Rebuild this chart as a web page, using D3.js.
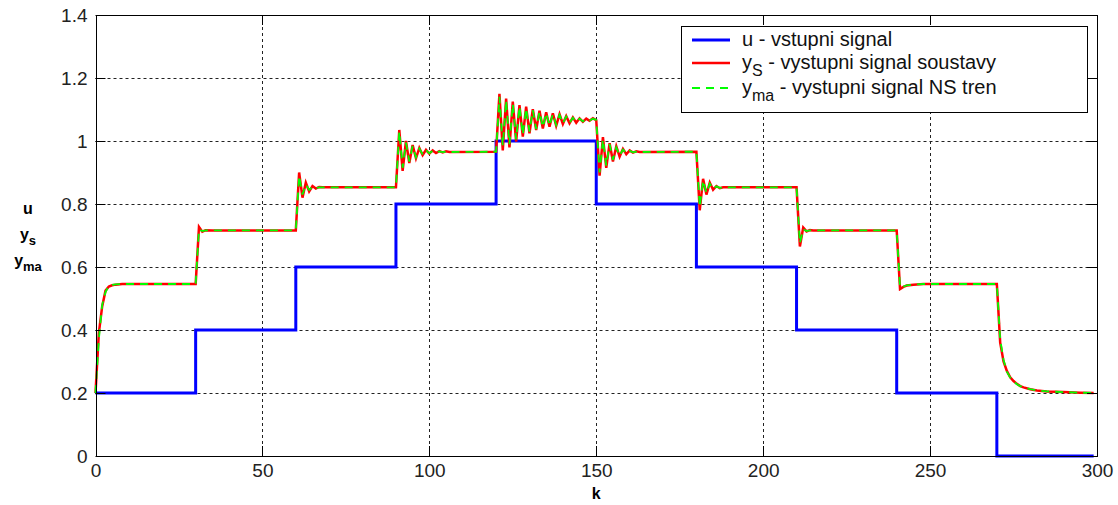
<!DOCTYPE html>
<html>
<head>
<meta charset="utf-8">
<script src="https://cdn.jsdelivr.net/npm/d3@7"></script>
<style>
  body { margin: 0; background: #fff; }
  text { font-family: "Liberation Sans", Arial, sans-serif; }
</style>
</head>
<body>
<script>
// input signal u: value held from each k until the next
const uSteps = [[0, 0.2], [30, 0.4], [60, 0.6], [90, 0.8], [120, 1.0], [150, 0.8], [180, 0.6], [210, 0.4], [240, 0.2], [270, 0], [299, 0]]

// plant output ys (k, value)
const ysPoints = [
  [0, 0.2], [1, 0.39], [2, 0.475], [3, 0.525], [4, 0.538], [5, 0.542], [6, 0.544], [8, 0.546], [30, 0.546],
  [31, 0.727], [32, 0.712], [33, 0.717], [35, 0.716], [60, 0.716],
  [61, 0.90], [62, 0.82], [63, 0.868], [64, 0.84], [65, 0.857], [66, 0.849], [67, 0.854], [68, 0.853], [90, 0.853],
  [91, 1.035], [92, 0.905], [93, 1.0], [94, 0.93], [95, 0.987], [96, 0.945], [97, 0.978], [98, 0.955], [99, 0.972],
  [100, 0.96], [101, 0.97], [102, 0.962], [103, 0.968], [104, 0.964], [105, 0.967], [106, 0.965], [120, 0.966],
  [121, 1.15], [122, 0.97], [123, 1.135], [124, 0.98], [125, 1.125], [126, 0.998], [127, 1.114], [128, 1.014],
  [129, 1.109], [130, 1.024], [131, 1.101], [132, 1.035], [133, 1.096], [134, 1.04], [135, 1.091], [136, 1.045],
  [137, 1.088], [138, 1.048], [139, 1.085], [140, 1.054], [141, 1.079], [142, 1.056], [143, 1.075], [144, 1.058],
  [145, 1.072], [146, 1.061], [147, 1.071], [148, 1.064], [149, 1.072], [150, 1.066],
  [151, 0.89], [152, 1.012], [153, 0.915], [154, 0.993], [155, 0.935], [156, 0.983], [157, 0.95], [158, 0.975],
  [159, 0.958], [160, 0.97], [161, 0.963], [162, 0.967], [163, 0.965], [180, 0.966],
  [181, 0.78], [182, 0.88], [183, 0.83], [184, 0.868], [185, 0.845], [186, 0.857], [187, 0.85], [188, 0.853], [210, 0.853],
  [211, 0.665], [212, 0.725], [213, 0.713], [214, 0.717], [215, 0.716], [240, 0.716],
  [241, 0.53], [242, 0.537], [243, 0.541], [245, 0.544], [248, 0.546], [270, 0.546],
  [271, 0.36], [272, 0.30], [273, 0.27], [274, 0.25], [275, 0.238], [276, 0.229], [277, 0.222], [278, 0.218],
  [280, 0.212], [282, 0.208], [285, 0.205], [290, 0.203], [295, 0.201], [299, 0.2]
]

// neural model output yma (k, value)
const ymaPoints = [
  [0, 0.2], [1, 0.37], [2, 0.48], [3, 0.52], [4, 0.54], [5, 0.543], [6, 0.545], [8, 0.546], [30, 0.546],
  [31, 0.72], [32, 0.714], [33, 0.716], [35, 0.716], [60, 0.716],
  [61, 0.89], [62, 0.83], [63, 0.862], [64, 0.845], [65, 0.855], [66, 0.851], [67, 0.853], [68, 0.853], [90, 0.853],
  [91, 1.03], [92, 0.915], [93, 0.995], [94, 0.935], [95, 0.984], [96, 0.948], [97, 0.976], [98, 0.957], [99, 0.971],
  [100, 0.961], [101, 0.969], [102, 0.963], [103, 0.967], [104, 0.965], [105, 0.966], [106, 0.965], [120, 0.966],
  [121, 1.14], [122, 0.985], [123, 1.13], [124, 0.99], [125, 1.118], [126, 1.005], [127, 1.11], [128, 1.02],
  [129, 1.104], [130, 1.03], [131, 1.098], [132, 1.038], [133, 1.093], [134, 1.044], [135, 1.089], [136, 1.048],
  [137, 1.086], [138, 1.051], [139, 1.083], [140, 1.056], [141, 1.078], [142, 1.058], [143, 1.074], [144, 1.06],
  [145, 1.071], [146, 1.062], [147, 1.07], [148, 1.065], [149, 1.071], [150, 1.067],
  [151, 0.9], [152, 1.005], [153, 0.922], [154, 0.99], [155, 0.94], [156, 0.98], [157, 0.953], [158, 0.973],
  [159, 0.96], [160, 0.969], [161, 0.964], [162, 0.966], [163, 0.965], [180, 0.966],
  [181, 0.79], [182, 0.875], [183, 0.835], [184, 0.865], [185, 0.847], [186, 0.856], [187, 0.851], [188, 0.853], [210, 0.853],
  [211, 0.675], [212, 0.72], [213, 0.714], [214, 0.716], [215, 0.716], [240, 0.716],
  [241, 0.535], [242, 0.538], [243, 0.542], [245, 0.544], [248, 0.546], [270, 0.546],
  [271, 0.37], [272, 0.305], [273, 0.268], [274, 0.249], [275, 0.237], [276, 0.228], [277, 0.222], [278, 0.218],
  [280, 0.212], [282, 0.208], [285, 0.205], [290, 0.203], [295, 0.201], [299, 0.2]
]

const xTicks = [0, 50, 100, 150, 200, 250, 300]
const yTicks = [0, 0.2, 0.4, 0.6, 0.8, 1, 1.2, 1.4]

const legendItems = [
  { name: 'u', sub: '', rest: ' - vstupni signal', color: '#0000ff', width: 3, dash: null },
  { name: 'y', sub: 'S', rest: ' - vystupni signal soustavy', color: '#ff0000', width: 2.5, dash: null },
  { name: 'y', sub: 'ma', rest: ' - vystupni signal NS tren', color: '#00ff00', width: 2, dash: '8,6' }
]

const width = 1118, height = 505
const pLeft = 95.5, pRight = 1097, pTop = 15, pBottom = 456

const x = d3.scaleLinear().domain([0, 300]).range([pLeft, pRight])
const y = d3.scaleLinear().domain([0, 1.4]).range([pBottom, pTop])

const svg = d3.select('body').append('svg')
  .attr('width', width)
  .attr('height', height)

// grid
const grid = svg.append('g')
  .attr('stroke', '#222')
  .attr('stroke-width', 1)
  .attr('stroke-dasharray', '3,3')
grid.selectAll('.gx').data(xTicks.slice(1, -1)).enter().append('line')
  .attr('x1', d => Math.round(x(d)) + 0.5).attr('x2', d => Math.round(x(d)) + 0.5)
  .attr('y1', pTop).attr('y2', pBottom)
grid.selectAll('.gy').data(yTicks.slice(1, -1)).enter().append('line')
  .attr('x1', pLeft).attr('x2', pRight)
  .attr('y1', d => Math.round(y(d)) + 0.5).attr('y2', d => Math.round(y(d)) + 0.5)

// lines
const line = d3.line().x(d => x(d[0])).y(d => y(d[1]))

svg.append('path')
  .datum(uSteps)
  .attr('d', line.curve(d3.curveStepAfter))
  .attr('fill', 'none')
  .attr('stroke', '#0000ff')
  .attr('stroke-width', 3)

line.curve(d3.curveLinear)

svg.append('path')
  .datum(ysPoints)
  .attr('d', line)
  .attr('fill', 'none')
  .attr('stroke', '#ff0000')
  .attr('stroke-width', 2.5)

svg.append('path')
  .datum(ymaPoints)
  .attr('d', line)
  .attr('fill', 'none')
  .attr('stroke', '#00ff00')
  .attr('stroke-width', 1.8)
  .attr('stroke-dasharray', '8,6')

// axes box with inward ticks
const axisX = d3.axisBottom(x).tickValues(xTicks).tickSize(0).tickPadding(8)
const axisY = d3.axisLeft(y).tickValues(yTicks).tickSize(0).tickPadding(8).tickFormat(d3.format('~g'))

svg.append('g').attr('transform', `translate(0,${pBottom})`).call(axisX)
  .call(g => g.select('.domain').remove())
svg.append('g').attr('transform', `translate(${pLeft},0)`).call(axisY)
  .call(g => g.select('.domain').remove())

svg.selectAll('.tick text')
  .attr('font-size', 19)
  .attr('font-family', '"Liberation Sans", Arial, sans-serif')
  .attr('fill', '#222')

const ticks = svg.append('g').attr('stroke', '#000').attr('stroke-width', 1)
xTicks.forEach(t => {
  const px = Math.round(x(t)) + 0.5
  ticks.append('line').attr('x1', px).attr('x2', px).attr('y1', pBottom).attr('y2', pBottom - 10)
  ticks.append('line').attr('x1', px).attr('x2', px).attr('y1', pTop).attr('y2', pTop + 10)
})
yTicks.forEach(t => {
  const py = Math.round(y(t)) + 0.5
  ticks.append('line').attr('x1', pLeft).attr('x2', pLeft + 10).attr('y1', py).attr('y2', py)
  ticks.append('line').attr('x1', pRight).attr('x2', pRight - 10).attr('y1', py).attr('y2', py)
})

svg.append('rect')
  .attr('x', Math.round(pLeft) + 0.5).attr('y', pTop + 0.5)
  .attr('width', Math.round(pRight) - Math.round(pLeft)).attr('height', pBottom - pTop)
  .attr('fill', 'none')
  .attr('stroke', '#000')

// axis labels
svg.append('text')
  .attr('x', (pLeft + pRight) / 2).attr('y', 499)
  .attr('text-anchor', 'middle')
  .attr('font-size', 16).attr('font-weight', 'bold')
  .text('k')

const yLab = [['u', ''], ['y', 's'], ['y', 'ma']]
yLab.forEach((d, i) => {
  const t = svg.append('text')
    .attr('x', 28).attr('y', 214 + i * 26)
    .attr('text-anchor', 'middle')
    .attr('font-size', 16).attr('font-weight', 'bold')
  t.append('tspan').text(d[0])
  if (d[1]) t.append('tspan').attr('dy', 5).attr('font-size', 13).text(d[1])
})

// legend
const lg = svg.append('g')
lg.append('rect')
  .attr('x', 681.5).attr('y', 26.5).attr('width', 406).attr('height', 86)
  .attr('fill', '#fff').attr('stroke', '#000')

const rowY = [40, 63, 88]
legendItems.forEach((d, i) => {
  const ly = rowY[i]
  lg.append('line')
    .attr('x1', 692).attr('x2', 730).attr('y1', ly).attr('y2', ly)
    .attr('stroke', d.color).attr('stroke-width', d.width)
    .attr('stroke-dasharray', d.dash)
  const t = lg.append('text')
    .attr('x', 742).attr('y', ly + 6)
    .attr('font-size', 20).attr('fill', '#111')
  t.append('tspan').text(d.name)
  if (d.sub) {
    t.append('tspan').attr('dy', 7).attr('font-size', 16).text(d.sub)
    t.append('tspan').attr('dy', -7).text(d.rest)
  } else {
    t.append('tspan').text(d.rest)
  }
})
</script>
</body>
</html>
